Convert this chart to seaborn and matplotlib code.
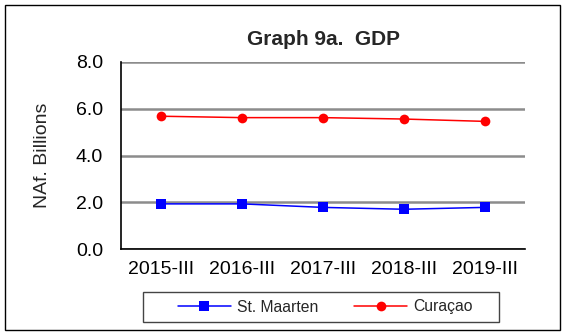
import matplotlib
matplotlib.use("Agg")
import matplotlib.pyplot as plt
from matplotlib.patches import Rectangle
from matplotlib.lines import Line2D
import seaborn as sns
import pandas as pd

quarters = ["2015-III", "2016-III", "2017-III", "2018-III", "2019-III"]
st_maarten = [1.93, 1.93, 1.78, 1.70, 1.78]
curacao = [5.68, 5.62, 5.62, 5.56, 5.46]

df = pd.DataFrame({
    "quarter": quarters * 2,
    "value": st_maarten + curacao,
    "country": ["St. Maarten"] * len(quarters) + ["Curaçao"] * len(quarters),
})
df["pos"] = list(range(len(quarters))) * 2

sns.set_theme(style="white")
plt.rcParams["font.family"] = ["Liberation Sans", "DejaVu Sans"]

W, H = 565, 333
fig = plt.figure(figsize=(W / 100, H / 100), dpi=100)
ax = fig.add_axes([121 / W, 1 - 249 / H, (525 - 121) / W, (249 - 62) / H])

sns.lineplot(
    data=df, x="pos", y="value", hue="country", style="country",
    palette={"St. Maarten": "#0000ff", "Curaçao": "#ff0000"},
    markers={"St. Maarten": "s", "Curaçao": "o"},
    dashes=False, markersize=7, markeredgewidth=0, linewidth=1.1,
    ax=ax, legend=False,
)

ax.set_xlim(-0.5, len(quarters) - 0.5)
ax.set_ylim(0, 8)
ax.set_xticks(range(len(quarters)))
ax.set_xticklabels(quarters)
ax.set_yticks([0, 2, 4, 6, 8])
ax.set_yticklabels([f"{v:.1f}" for v in [0, 2, 4, 6, 8]])
ax.tick_params(axis="x", labelsize=14, length=0, pad=9, colors="black")
ax.tick_params(axis="y", labelsize=14, length=0, pad=13, colors="black")
ax.set_xlabel("")
ax.set_ylabel("NAf. Billions", fontsize=14, labelpad=18)

ax.yaxis.grid(True, color="#8c8c8c", linewidth=1.8)
ax.xaxis.grid(False)
ax.set_axisbelow(True)
for side in ["top", "right"]:
    ax.spines[side].set_visible(False)
for side in ["left", "bottom"]:
    ax.spines[side].set_color("black")
    ax.spines[side].set_linewidth(1.2)
ax.spines["bottom"].set_zorder(3)

ax.set_title("Graph 9a.  GDP", fontsize=15, fontweight="bold", pad=12)

# legend below the plot, inside its own wide box
handles = [
    Line2D([], [], color="#0000ff", marker="s", markersize=6.5, markeredgewidth=0, linewidth=1.1),
    Line2D([], [], color="#ff0000", marker="o", markersize=7, markeredgewidth=0, linewidth=1.1),
]
fig.legend(
    handles, ["St. Maarten", "Curaçao"], loc="center",
    bbox_to_anchor=(325 / W, 1 - 307 / H), ncol=2, frameon=False,
    fontsize=11.3, handlelength=3.4, handletextpad=0.35, columnspacing=2.3,
    borderpad=0.3, borderaxespad=0,
)
fig.patches.append(Rectangle((143 / W, 1 - 322 / H), 356 / W, 30 / H,
                             transform=fig.transFigure, fill=False,
                             edgecolor="#444444", linewidth=1.0))

# outer frame around the whole chart
fig.patches.append(Rectangle((5 / W, 1 - 330 / H), 555 / W, 325 / H,
                             transform=fig.transFigure, fill=False,
                             edgecolor="black", linewidth=1.0))

fig.savefig("out.png", dpi=100)
